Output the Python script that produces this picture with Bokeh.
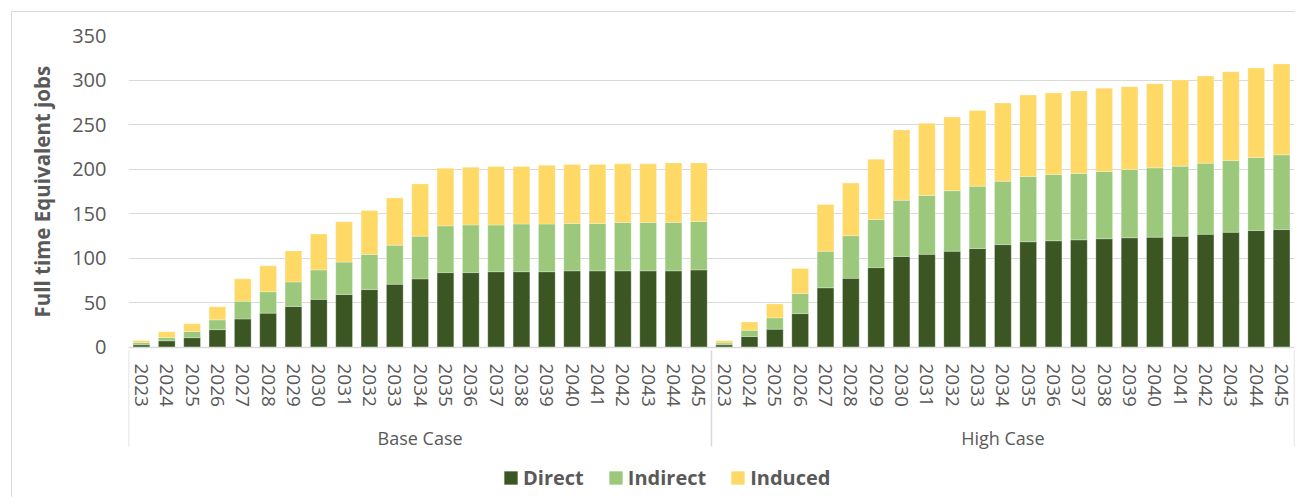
import math
from bokeh.plotting import figure
from bokeh.models import (FactorRange, Legend, LegendItem, ColumnDataSource,
                          FixedTicker, Range1d, Title)
from bokeh.embed import file_html
from bokeh.resources import INLINE

years = [str(y) for y in range(2023, 2046)]
cases = ["Base Case", "High Case"]
series = ["Direct", "Indirect", "Induced"]
colors = ["#3b5623", "#9bc87b", "#fed966"]
y_ticks = [0, 50, 100, 150, 200, 250, 300, 350]
y_title = "Full time Equivalent jobs"

base_direct = [3, 7.5, 11, 20, 32, 38.5, 46, 54, 59.5, 65, 71, 77, 84, 84, 85,
               85, 85, 86, 86, 86, 86, 86, 87]
base_indirect = [2.5, 3.7, 7, 11, 20, 24, 27.5, 33, 36.3, 39.3, 43.8, 47.9, 52.4,
                 53.5, 52.3, 53.5, 53.5, 53.1, 53.1, 54.3, 54.3, 54.3, 54.3]
base_induced = [2.2, 6.4, 8.6, 14.6, 25, 29.2, 34.8, 40.4, 45.3, 49.3, 53, 58.6,
                64.6, 64.7, 65.8, 64.6, 65.8, 66.2, 66.2, 65.7, 65.7, 66.8, 65.7]

high_direct = [3, 12.3, 20.5, 38, 67, 77.6, 89.6, 102.2, 104.5, 108, 111, 115.4,
               118.6, 119.7, 120.8, 122, 123.1, 123.8, 124.9, 127.1, 129.3, 131.2, 132.3]
high_indirect = [2, 7, 12.7, 22.5, 41, 47.8, 53.9, 63, 66, 67.8, 70, 71.1, 73.2,
                 74.3, 74.4, 75.4, 76.6, 77.7, 78.5, 79.7, 80.4, 81.9, 83.8]
high_induced = [2.6, 9.3, 15.7, 28.1, 52.4, 59, 67.8, 78.7, 81, 82.8, 85, 87.9,
                91.4, 91.5, 92.5, 93.3, 92.9, 94.5, 96.6, 97.7, 99.7, 100.4, 101.9]

factors = [(c, y) for c in cases for y in years]
source = ColumnDataSource(dict(
    x=factors,
    Direct=base_direct + high_direct,
    Indirect=base_indirect + high_indirect,
    Induced=base_induced + high_induced,
))

# hidden one-slot groups at both ends, cut away by negative padding, so that the
# axis draws group separators at the left and right edges as well
range_factors = [(" ", "")] + factors + [("  ", "")]

FONT = "Open Sans"
TXT = "#595959"
GRID = "#d9d9d9"

# the frame reaches below zero so the category axis (pinned at 0) and the
# legend sit inside the plot area
p = figure(
    x_range=FactorRange(factors=range_factors, factor_padding=0, group_padding=0,
                        subgroup_padding=0, range_padding=-0.99,
                        range_padding_units="absolute"),
    y_range=Range1d(-168.3, 350),
    frame_width=1166, frame_height=462,
    output_backend="svg", toolbar_location=None,
    min_border_left=116, min_border_right=1, min_border_top=23,
    min_border_bottom=0,
)
p.margin = (11, 0, 0, 11)
p.styles = {"border-left": "1px solid #d9d9d9", "border-top": "1px solid #d9d9d9"}
p.outline_line_color = None

renderers = p.vbar_stack(series, x="x", width=0.66, color=colors, source=source,
                         line_color="white", line_width=0.6, line_alpha=0.45)

# y axis
p.yaxis.ticker = FixedTicker(ticks=y_ticks)
p.yaxis.bounds = (0, 350)
p.yaxis.axis_line_color = None
p.yaxis.major_tick_line_color = None
p.yaxis.minor_tick_line_color = None
p.yaxis.major_label_text_font = FONT
p.yaxis.major_label_text_font_size = "20px"
p.yaxis.major_label_text_color = TXT
p.yaxis.major_label_standoff = 16

# y axis title, centred on the 0-350 span rather than on the whole frame
p.add_layout(Title(text=y_title, align="left", vertical_align="bottom",
                   offset=180, standoff=27, text_font=FONT,
                   text_font_size="20.5px", text_font_style="bold",
                   text_color=TXT), "left")

p.ygrid.ticker = FixedTicker(ticks=y_ticks)
p.ygrid.grid_line_color = GRID
p.ygrid.grid_line_width = 1
p.xgrid.visible = False

# x axis
xa = p.xaxis[0]
xa.fixed_location = 0
xa.axis_line_color = GRID
xa.axis_line_width = 1.5
xa.major_tick_line_color = None
xa.minor_tick_line_color = None
xa.major_tick_out = 0
xa.major_label_orientation = "vertical"
xa.major_label_text_font = FONT
xa.major_label_text_font_size = "19px"
xa.major_label_text_color = TXT
xa.major_label_standoff = 16
xa.group_text_font = FONT
xa.group_text_font_size = "18px"
xa.group_text_font_style = "normal"
xa.group_text_color = TXT
xa.group_label_orientation = "horizontal"
xa.separator_line_color = GRID
xa.separator_line_width = 1.5

legend = Legend(
    items=[LegendItem(label=s, renderers=[r]) for s, r in zip(series, renderers)],
    orientation="horizontal", location=(374, 6),
    border_line_color=None, background_fill_alpha=0,
    label_text_font=FONT, label_text_font_style="bold",
    label_text_font_size="20px", label_text_color=TXT,
    glyph_width=17, glyph_height=17, label_standoff=4, spacing=23,
    padding=0, margin=0,
)
p.add_layout(legend, "center")

open("out.html", "w").write(file_html(p, INLINE))
